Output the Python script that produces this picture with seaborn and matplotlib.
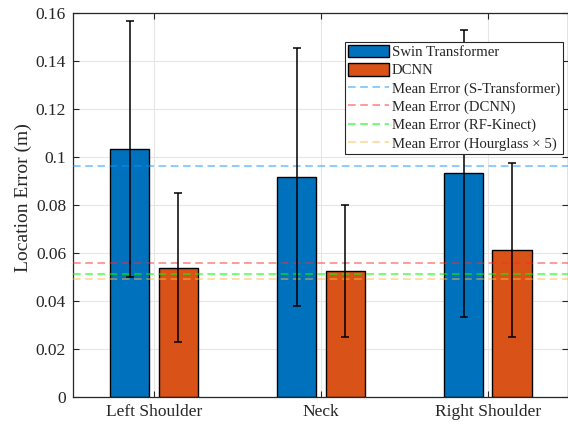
import numpy as np
import pandas as pd
import matplotlib
matplotlib.use("Agg")
import matplotlib.pyplot as plt
import seaborn as sns
from matplotlib.patches import Patch
from matplotlib.lines import Line2D
from matplotlib.ticker import FuncFormatter, MultipleLocator

# ---- data ----
joints = ["Left Shoulder", "Neck", "Right Shoulder"]
models = ["Swin Transformer", "DCNN"]
swin_mean = [0.1033, 0.0917, 0.0933]
swin_err = [0.0535, 0.0538, 0.0598]
dcnn_mean = [0.0538, 0.0525, 0.0613]
dcnn_err = [0.0310, 0.0277, 0.0363]
ref_labels = ["Mean Error (S-Transformer)", "Mean Error (DCNN)",
              "Mean Error (RF-Kinect)", "Mean Error (Hourglass \u00d7 5)"]
ref_values = [0.0962, 0.0558, 0.0512, 0.0492]

bar_colors = ["#0072BD", "#D95319"]
ref_colors = ["#0A96FF", "#FF2A2A", "#00FF00", "#FFB644"]
ref_alpha = [0.6, 0.6, 0.7, 0.6]

df = pd.DataFrame({
    "joint": joints * 2,
    "model": [models[0]] * 3 + [models[1]] * 3,
    "value": swin_mean + dcnn_mean,
    "err": swin_err + dcnn_err,
})

sns.set_theme(style="white")
plt.rcParams["font.family"] = ["Liberation Serif", "DejaVu Serif"]

fig = plt.figure(figsize=(5.68, 4.24), dpi=100)
ax = fig.add_axes([73 / 568, 27 / 424, 495 / 568, 384 / 424])

sns.barplot(data=df, x="joint", y="value", hue="model", order=joints,
            hue_order=models, palette=bar_colors, width=0.58, gap=0.19,
            errorbar=None, edgecolor="black", linewidth=1.0, saturation=1,
            legend=False, ax=ax, zorder=2)

# error bars on bar centres
for cont, m in zip(ax.containers, models):
    sub = df[df["model"] == m].set_index("joint").loc[joints]
    xs = [p.get_x() + p.get_width() / 2 for p in cont.patches]
    ax.errorbar(xs, sub["value"].values, yerr=sub["err"].values, fmt="none",
                ecolor="black", elinewidth=1.1, capsize=3, capthick=1.1,
                zorder=5)

for v, c, a in zip(ref_values, ref_colors, ref_alpha):
    ax.axhline(v, color=c, alpha=a, lw=1.1, dashes=(5, 3), zorder=4)

ax.set_xlim(0.515 - 1, 3.48 - 1)
ax.set_ylim(0, 0.16)
ax.yaxis.set_major_locator(MultipleLocator(0.02))
ax.yaxis.set_major_formatter(FuncFormatter(lambda v, p: f"{v:g}" if abs(v) > 1e-12 else "0"))
ax.set_xlabel("")
ax.set_ylabel("Location Error (m)", fontsize=14, color="#262626")
ax.yaxis.set_label_coords(-0.083, 0.52)
ax.grid(True, color="#e6e6e6", lw=0.8, zorder=0)
ax.set_axisbelow(True)
ax.tick_params(direction="in", length=4, width=0.8, colors="#262626",
               labelsize=12.5, top=True, right=True, bottom=True, left=True,
               labelcolor="#262626", pad=5)
for s in ax.spines.values():
    s.set_color("#262626")
    s.set_linewidth(0.9)

handles = [Patch(facecolor=c, edgecolor="black", lw=1.0) for c in bar_colors]
handles += [Line2D([], [], color=c, alpha=a, lw=1.1, dashes=(5, 3))
            for c, a in zip(ref_colors, ref_alpha)]
leg = ax.legend(handles, models + ref_labels, loc="upper right",
                bbox_to_anchor=(0.99, 0.924), borderaxespad=0, fontsize=10.6,
                frameon=True, fancybox=False, framealpha=1, edgecolor="#262626",
                handlelength=2.75, handleheight=0.9, handletextpad=0.2,
                borderpad=0.2, labelspacing=0.27)
leg.get_frame().set_linewidth(0.8)

fig.savefig("out.png", dpi=100)
